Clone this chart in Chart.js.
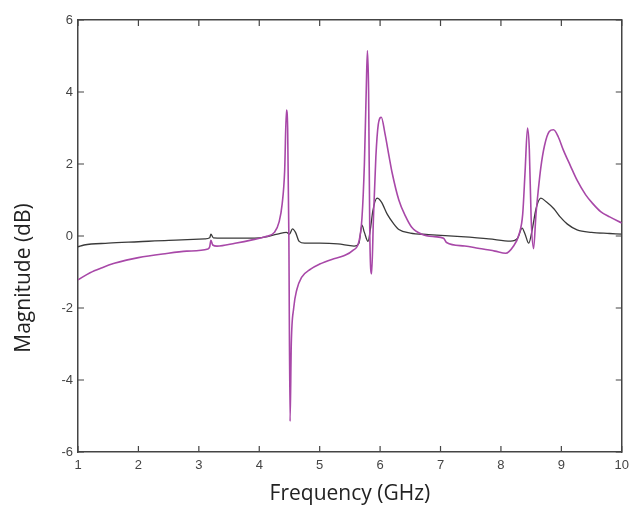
<!DOCTYPE html>
<html lang="en">
    <head>
        <meta charset="utf-8" />
        <script src="https://cdn.jsdelivr.net/npm/chart.js@4.4.1/dist/chart.umd.min.js"></script>
        <title>Magnitude vs frequency</title>
        <style>
            body { margin: 0; background: #fff; }
        </style>
    </head>
    <body>
        <canvas id="grafico" width="635" height="518"></canvas>
        <script>
            // frecuencias (GHz) y magnitudes (dB)
            const freqMagenta = [1.00, 1.20, 1.40, 1.60, 1.80, 2.00, 2.40, 2.80, 3.15, 3.18, 3.20, 3.23, 3.30, 3.60, 3.90, 4.10, 4.25, 4.33, 4.38, 4.42, 4.45, 4.47, 4.49, 4.51, 4.53, 4.57, 4.62, 4.70, 4.85, 5.00, 5.20, 5.40, 5.55, 5.65, 5.70, 5.74, 5.77, 5.79, 5.81, 5.83, 5.86, 5.89, 5.93, 5.97, 6.02, 6.08, 6.15, 6.20, 6.31, 6.42, 6.52, 6.69, 6.90, 7.05, 7.10, 7.40, 7.62, 7.90, 8.08, 8.20, 8.30, 8.36, 8.40, 8.44, 8.47, 8.50, 8.54, 8.58, 8.62, 8.66, 8.72, 8.80, 8.87, 8.95, 9.03, 9.15, 9.26, 9.40, 9.52, 9.65, 9.80, 10.0];
            const dbMagenta = [-1.22, -1.02, -0.88, -0.76, -0.67, -0.60, -0.50, -0.42, -0.36, -0.30, -0.12, -0.25, -0.28, -0.20, -0.10, -0.02, 0.10, 0.40, 0.90, 1.80, 3.50, 3.00, 0.00, -5.15, -3.00, -2.00, -1.50, -1.15, -0.92, -0.78, -0.65, -0.55, -0.40, -0.15, 0.50, 2.00, 4.00, 5.15, 4.00, 0.00, -1.05, 0.50, 2.20, 3.10, 3.30, 2.85, 2.20, 1.75, 1.00, 0.55, 0.25, 0.05, -0.02, -0.06, -0.18, -0.28, -0.34, -0.42, -0.48, -0.30, 0.05, 0.60, 1.80, 3.00, 2.40, 0.50, -0.35, 0.60, 1.30, 1.90, 2.50, 2.90, 2.95, 2.75, 2.40, 1.95, 1.55, 1.15, 0.90, 0.68, 0.53, 0.36];

            const freqNegro = [1.00, 1.10, 1.50, 2.00, 2.50, 3.10, 3.18, 3.20, 3.24, 3.60, 4.00, 4.30, 4.45, 4.50, 4.55, 4.60, 4.66, 4.75, 5.00, 5.30, 5.57, 5.65, 5.70, 5.74, 5.80, 5.84, 5.88, 5.95, 6.02, 6.12, 6.22, 6.31, 6.50, 6.80, 7.34, 7.80, 8.16, 8.28, 8.35, 8.40, 8.46, 8.52, 8.58, 8.66, 8.75, 8.88, 8.98, 9.10, 9.26, 9.50, 9.80, 10.0];
            const dbNegro = [-0.30, -0.25, -0.20, -0.16, -0.12, -0.08, -0.05, 0.05, -0.05, -0.06, -0.05, 0.05, 0.10, 0.05, 0.20, 0.10, -0.15, -0.20, -0.20, -0.22, -0.28, -0.20, 0.30, 0.10, -0.15, 0.20, 0.70, 1.05, 0.95, 0.60, 0.35, 0.18, 0.08, 0.04, -0.02, -0.08, -0.14, -0.05, 0.22, 0.05, -0.20, 0.20, 0.75, 1.05, 0.95, 0.75, 0.53, 0.33, 0.17, 0.10, 0.07, 0.05];

            const ejeX = { min: 1, max: 10, paso: 1 };
            const ejeY = { min: -6, max: 6, paso: 2 };

            const tituloX = "Frequency (GHz)";
            const tituloY = "Magnitude (dB)";

            const pares = (xs, ys) => xs.map((x, i) => ({ x: x, y: ys[i] }));

            // marcas hacia adentro y titulos de ejes, estilo matlab
            const marcasAdentro = {
                id: "marcasAdentro",
                afterDraw(chart) {
                    const ctx = chart.ctx;
                    const a = chart.chartArea;
                    const sx = chart.scales.x;
                    const sy = chart.scales.y;
                    ctx.save();
                    ctx.strokeStyle = "#444";
                    ctx.lineWidth = 1.2;
                    ctx.beginPath();
                    sx.ticks.forEach((t) => {
                        const px = sx.getPixelForValue(t.value);
                        ctx.moveTo(px, a.bottom);
                        ctx.lineTo(px, a.bottom - 6);
                        ctx.moveTo(px, a.top);
                        ctx.lineTo(px, a.top + 6);
                    });
                    sy.ticks.forEach((t) => {
                        const py = sy.getPixelForValue(t.value);
                        ctx.moveTo(a.left, py);
                        ctx.lineTo(a.left + 6, py);
                        ctx.moveTo(a.right, py);
                        ctx.lineTo(a.right - 6, py);
                    });
                    ctx.stroke();
                    ctx.fillStyle = "#222";
                    ctx.font = "21px 'Open Sans'";
                    ctx.textAlign = "center";
                    ctx.textBaseline = "middle";
                    ctx.fillText(tituloX, (a.left + a.right) / 2, 494);
                    ctx.translate(24, 278);
                    ctx.rotate(-Math.PI / 2);
                    ctx.fillText(tituloY, 0, 0);
                    ctx.restore();
                }
            };

            const borde = { display: true, color: "#444", width: 1.5 };

            new Chart(document.getElementById("grafico").getContext("2d"), {
                type: "line",
                data: {
                    datasets: [
                        { data: pares(freqMagenta, dbMagenta), borderColor: "#a848a8", borderWidth: 1.6, pointRadius: 0, cubicInterpolationMode: "monotone" },
                        { data: pares(freqNegro, dbNegro), borderColor: "#3a3a3a", borderWidth: 1.3, pointRadius: 0, cubicInterpolationMode: "monotone" }
                    ]
                },
                options: {
                    responsive: false,
                    animation: false,
                    layout: { padding: 0 },
                    plugins: { legend: { display: false }, tooltip: { enabled: false } },
                    scales: {
                        x: {
                            type: "linear", position: "bottom", min: ejeX.min, max: ejeX.max,
                            ticks: { stepSize: ejeX.paso, color: "#444", font: { family: "Liberation Sans", size: 13 }, padding: 6 },
                            grid: { display: false, drawTicks: false },
                            border: borde,
                            afterFit: (s) => { s.height = 66; }
                        },
                        x2: {
                            type: "linear", position: "top", min: ejeX.min, max: ejeX.max,
                            ticks: { display: false },
                            grid: { display: false, drawTicks: false },
                            border: borde,
                            afterFit: (s) => { s.height = 20; }
                        },
                        y: {
                            type: "linear", position: "left", min: ejeY.min, max: ejeY.max,
                            ticks: { stepSize: ejeY.paso, color: "#444", font: { family: "Liberation Sans", size: 13 }, padding: 5 },
                            grid: { display: false, drawTicks: false },
                            border: borde,
                            afterFit: (s) => { s.width = 78; }
                        },
                        y2: {
                            type: "linear", position: "right", min: ejeY.min, max: ejeY.max,
                            ticks: { display: false },
                            grid: { display: false, drawTicks: false },
                            border: borde,
                            afterFit: (s) => { s.width = 8; }
                        }
                    }
                },
                plugins: [marcasAdentro]
            });
        </script>
    </body>
</html>
